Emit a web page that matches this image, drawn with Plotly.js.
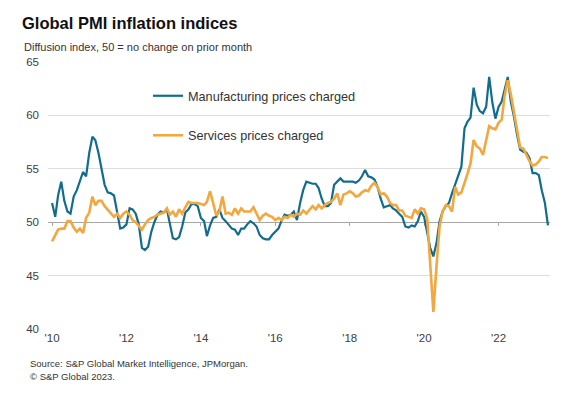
<!DOCTYPE html>
<html>
<head>
<meta charset="utf-8">
<script src="https://cdn.plot.ly/plotly-3.0.1.min.js"></script>
<style>html,body{margin:0;padding:0;background:#fff;}#chart{width:583px;height:396px;}</style>
</head>
<body>
<div id="chart"></div>
<script>
// Monthly series, Jan 2010 .. May 2023
var START_YEAR = 2010, START_MONTH = 1;
var seriesNames = ["Manufacturing prices charged", "Services prices charged"];
var manufacturing = [
  51.8, 50.5, 52.5, 53.8, 52.0, 51.0, 50.8, 52.4, 53.0, 53.8, 54.7, 54.3,
  56.5, 58.0, 57.7, 56.5, 55.0, 53.5, 52.8, 52.7, 52.5, 51.0, 49.4, 49.5,
  49.8, 51.3, 51.2, 50.8, 49.8, 47.6, 47.4, 47.7, 49.1, 50.0, 50.7, 51.0,
  50.9, 51.2, 49.8, 48.5, 48.4, 48.6, 49.6, 50.9, 51.2, 51.7, 51.7, 51.5,
  50.4, 50.1, 48.7, 49.7, 50.4, 50.5, 51.2, 50.4, 50.1, 49.7, 49.4, 49.3,
  48.8, 49.4, 49.4, 49.8, 50.1, 49.9, 49.6, 48.8, 48.5, 48.4, 48.4, 48.8,
  49.1, 49.4, 50.1, 50.7, 50.6, 50.7, 51.0, 50.2, 51.8, 53.0, 53.8, 53.7,
  53.6, 53.6, 53.2, 52.2, 51.5, 51.5, 51.8, 53.5, 53.8, 54.1, 53.8, 53.8,
  53.8, 53.8, 53.7, 53.9, 54.3, 54.9, 54.3, 54.2, 54.0, 53.3, 52.2, 51.4,
  51.5, 51.6, 51.3, 51.1, 50.8, 50.5, 49.6, 49.5, 49.7, 49.6, 50.1, 51.0,
  50.5, 49.0, 47.6, 46.8, 48.0, 50.1, 51.0, 51.5, 51.8, 52.7, 53.5, 54.3,
  55.2, 58.8, 59.4, 59.8, 62.6, 61.0, 60.4, 60.2, 60.8, 63.6, 61.2, 59.7,
  60.8, 61.3, 62.5, 63.6, 61.3, 59.9, 58.2, 56.8, 56.6, 56.5, 56.0, 54.6,
  54.6, 54.4, 53.0, 51.8, 49.7
];
var services = [
  48.2, 48.8, 49.3, 49.4, 49.4, 50.1, 50.1, 49.5, 49.1, 49.4, 49.0, 50.4,
  50.9, 52.4, 51.6, 52.0, 52.0, 51.5, 51.2, 50.8, 50.5, 50.8, 50.4, 50.8,
  51.0, 50.7, 50.2, 50.0, 49.6, 49.3, 49.8, 50.2, 50.4, 50.5, 50.7, 50.8,
  50.9, 51.3, 50.7, 51.0, 50.5, 51.2, 50.8, 51.4, 51.9, 51.8, 51.8, 51.8,
  51.7, 51.6, 51.9, 52.9, 51.8, 50.6, 51.0, 52.4, 50.8, 50.9, 50.7, 51.3,
  50.8, 51.3, 51.0, 51.0, 51.0, 51.4, 50.8, 50.2, 50.6, 50.8, 50.6, 50.5,
  50.2, 50.4, 50.2, 50.5, 50.4, 50.7, 50.5, 50.8, 50.7, 51.1, 50.8, 51.2,
  51.5, 51.2, 51.6, 51.3, 51.6, 51.8, 51.9, 52.2, 52.7, 51.6, 52.6, 52.7,
  52.9, 52.7, 52.4, 52.5, 52.8, 53.0, 52.9, 53.4, 53.7, 53.3, 52.6, 52.7,
  52.4, 51.8, 51.6, 51.6, 51.1, 51.1, 50.6, 50.5, 50.4, 51.2, 50.8, 51.3,
  51.2, 50.3, 46.5, 41.6, 45.8, 49.6, 51.0, 51.6, 51.5, 51.0, 53.3, 52.6,
  52.8, 53.6, 54.5, 55.5, 57.7, 57.1, 56.9, 56.3, 57.7, 59.0, 58.8, 58.7,
  59.3, 59.6, 61.8, 63.3, 62.0, 60.2, 58.5, 57.0, 56.9, 56.3, 55.7, 55.3,
  55.4, 55.7, 56.1, 56.1, 56.0
];
var yTicks = [40, 45, 50, 55, 60, 65];
var xTickVals = ["2010-01-01","2012-01-01","2014-01-01","2016-01-01","2018-01-01","2020-01-01","2022-01-01"];
var xTickText = ["'10","'12","'14","'16","'18","'20","'22"];

function monthDates(n) {
  var out = [];
  for (var i = 0; i < n; i++) {
    var y = START_YEAR + Math.floor((START_MONTH - 1 + i) / 12);
    var m = ((START_MONTH - 1 + i) % 12) + 1;
    out.push(y + "-" + (m < 10 ? "0" + m : m) + "-01");
  }
  return out;
}
var dates = monthDates(manufacturing.length);

var FONT = "Liberation Sans, Arial, sans-serif";
var TEAL = "#116d8b";
var ORANGE = "#f2a73f";
var XRANGE = ["2009-11-22", "2023-05-21"];

var traces = [
  {x: dates, y: manufacturing, name: seriesNames[0], type: "scatter", mode: "lines",
   line: {color: TEAL, width: 2.2}, legendgroup: "a", xaxis: "x", yaxis: "y"},
  {x: dates, y: services, name: seriesNames[1], type: "scatter", mode: "lines",
   line: {color: ORANGE, width: 2.6}, legendgroup: "b", xaxis: "x2", yaxis: "y"}
];

var W = 583, H = 396, L = 48, R = 33, T = 62, B = 67;
var PW = W - L - R, PH = H - T - B;
function px(xp) { return (xp - L) / PW; }
function py(yp) { return (H - B - yp) / PH; }

var layout = {
  width: W, height: H,
  margin: {l: L, r: R, t: T, b: B, pad: 0},
  paper_bgcolor: "#ffffff", plot_bgcolor: "#ffffff",
  font: {family: FONT, color: "#333333"},
  title: {text: "<b>Global PMI inflation indices</b>", x: 22 / W, xanchor: "left", xref: "container",
          y: 1 - 23 / H, yanchor: "middle", yref: "container",
          font: {family: FONT, size: 16.5, color: "#111111"}},
  showlegend: true,
  legend: {x: px(148), xanchor: "left", y: py(81), yanchor: "top",
           font: {family: FONT, size: 12.7, color: "#333333"},
           bgcolor: "rgba(0,0,0,0)", traceorder: "grouped", tracegroupgap: 20},
  xaxis: {type: "date", range: XRANGE, showgrid: false, zeroline: false, showline: false,
          ticks: "", tickmode: "array", tickvals: xTickVals, ticktext: xTickText,
          tickfont: {family: FONT, size: 11.5, color: "#404040"}, fixedrange: true},
  xaxis2: {type: "date", range: XRANGE, overlaying: "x", anchor: "free", position: 0.4,
           showgrid: false, zeroline: false, showline: true, linecolor: "#a6a6a6", linewidth: 1,
           ticks: "outside", ticklen: 3, tickcolor: "#a6a6a6", tickmode: "array", tickvals: xTickVals,
           showticklabels: false, layer: "below traces"},
  yaxis: {range: [40, 65], tickmode: "array", tickvals: yTicks, ticktext: yTicks.map(String),
          showgrid: true, gridcolor: "#dedede", gridwidth: 1, zeroline: false, showline: false,
          ticks: "", ticklabelstandoff: 8, tickfont: {family: FONT, size: 11.5, color: "#404040"}},
  annotations: [
    {text: "Diffusion index, 50 = no change on prior month", xref: "paper", yref: "paper",
     x: px(22), y: py(47), xanchor: "left", yanchor: "middle", showarrow: false,
     font: {family: FONT, size: 11, color: "#333333"}},
    {text: "Source: S&P Global Market Intelligence, JPMorgan.", xref: "paper", yref: "paper",
     x: px(28), y: py(363), xanchor: "left", yanchor: "middle", showarrow: false,
     font: {family: FONT, size: 9.5, color: "#333333"}},
    {text: "© S&P Global 2023.", xref: "paper", yref: "paper",
     x: px(28), y: py(376), xanchor: "left", yanchor: "middle", showarrow: false,
     font: {family: FONT, size: 9.5, color: "#333333"}}
  ]
};

Plotly.newPlot("chart", traces, layout, {displayModeBar: false, staticPlot: true});
</script>
</body>
</html>
